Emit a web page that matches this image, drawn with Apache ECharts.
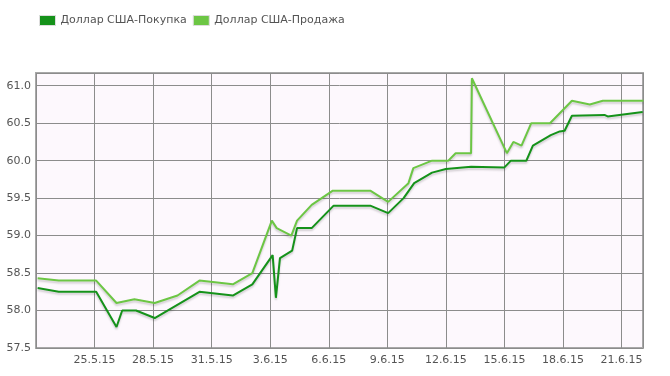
<!DOCTYPE html>
<html>
<head>
<meta charset="utf-8">
<script src="https://cdn.jsdelivr.net/npm/echarts@6/dist/echarts.min.js"></script>
<style>html,body{margin:0;padding:0;background:#fff}#c{width:670px;height:376px}</style>
</head>
<body>
<div id="c"></div>
<script>
const seriesNames = ['Доллар США-Покупка', 'Доллар США-Продажа'];
const buyDates = ['2015-05-22 02:00','2015-05-23 04:00','2015-05-25 02:00','2015-05-26 03:00','2015-05-26 10:00','2015-05-27 03:00','2015-05-28 02:00','2015-05-30 09:00','2015-06-01 02:00','2015-06-02 02:00','2015-06-03 03:00','2015-06-03 07:00','2015-06-03 12:00','2015-06-04 03:00','2015-06-04 09:00','2015-06-05 03:00','2015-06-06 06:00','2015-06-08 03:00','2015-06-09 01:00','2015-06-09 20:00','2015-06-10 09:00','2015-06-11 07:00','2015-06-12 00:00','2015-06-13 07:00','2015-06-15 00:00','2015-06-15 08:00','2015-06-16 03:00','2015-06-16 11:00','2015-06-17 09:00','2015-06-17 20:00','2015-06-18 02:00','2015-06-18 11:00','2015-06-20 03:00','2015-06-20 07:00','2015-06-22 02:00'];
const buyValues = [58.30,58.25,58.25,57.78,58.00,58.00,57.90,58.25,58.20,58.35,58.74,58.17,58.70,58.80,59.10,59.10,59.40,59.40,59.30,59.50,59.70,59.84,59.89,59.92,59.91,60.00,60.00,60.20,60.34,60.39,60.40,60.60,60.61,60.59,60.65];
const sellDates = ['2015-05-22 02:00','2015-05-23 04:00','2015-05-25 02:00','2015-05-26 03:00','2015-05-27 01:00','2015-05-28 02:00','2015-05-29 06:00','2015-05-30 09:00','2015-06-01 02:00','2015-06-02 02:00','2015-06-03 02:00','2015-06-03 08:00','2015-06-04 02:00','2015-06-04 09:00','2015-06-05 03:00','2015-06-06 05:00','2015-06-08 03:00','2015-06-09 01:00','2015-06-10 02:00','2015-06-10 08:00','2015-06-11 07:00','2015-06-12 03:00','2015-06-12 12:00','2015-06-13 07:00','2015-06-13 08:00','2015-06-15 03:00','2015-06-15 11:00','2015-06-15 21:00','2015-06-16 09:00','2015-06-17 08:00','2015-06-18 11:00','2015-06-19 09:00','2015-06-20 01:00','2015-06-22 03:00'];
const sellValues = [58.43,58.40,58.40,58.10,58.15,58.10,58.20,58.40,58.35,58.50,59.20,59.10,59.00,59.20,59.41,59.60,59.60,59.45,59.70,59.90,60.00,60.00,60.10,60.10,61.10,60.10,60.25,60.20,60.50,60.50,60.80,60.75,60.80,60.80];

const ORIGIN = Date.UTC(2015, 4, 22);
const DAY = 86400000;
function toDay(s) {
  const [d, t] = s.split(' ');
  const [Y, M, D] = d.split('-').map(Number);
  const [h, m] = t.split(':').map(Number);
  return (Date.UTC(Y, M - 1, D, h, m) - ORIGIN) / DAY;
}
function fmtDay(v) {
  const dt = new Date(ORIGIN + Math.round(v * DAY));
  return dt.getUTCDate() + '.' + (dt.getUTCMonth() + 1) + '.' + String(dt.getUTCFullYear()).slice(2);
}
const buyData = buyDates.map((d, i) => [toDay(d), buyValues[i]]);
const sellData = sellDates.map((d, i) => [toDay(d), sellValues[i]]);

const labelStyle = { color: '#545454', fontFamily: 'DejaVu Sans', fontSize: 11 };
const shadow = { shadowColor: 'rgba(0,0,0,0.18)', shadowBlur: 2, shadowOffsetY: 2 };

const chart = echarts.init(document.getElementById('c'), null, { renderer: 'canvas' });
chart.setOption({
  animation: false,
  backgroundColor: '#ffffff',
  color: ['#15921a', '#6cc644'],
  legend: {
    left: 34, top: 10,
    itemWidth: 16, itemHeight: 10, itemGap: 6,
    icon: 'rect',
    itemStyle: { borderColor: '#dddddd', borderWidth: 1 },
    textStyle: labelStyle,
    data: seriesNames
  },
  grid: {
    left: 36, right: 27, top: 73, bottom: 28,
    show: true, backgroundColor: '#fdf8fd', borderColor: '#a8a8a8', borderWidth: 2
  },
  xAxis: {
    type: 'value', min: 0, max: 31.1, interval: 3,
    axisLine: { show: false }, axisTick: { show: false },
    splitLine: { show: true, lineStyle: { color: '#8c8c8c', width: 1 } },
    axisLabel: Object.assign({ margin: 7, showMinLabel: false, showMaxLabel: false, formatter: fmtDay }, labelStyle)
  },
  yAxis: {
    type: 'value', min: 57.5, max: 61.17, interval: 0.5,
    axisLine: { show: false }, axisTick: { show: false },
    splitLine: { show: true, lineStyle: { color: '#8c8c8c', width: 1 } },
    axisLabel: Object.assign({ margin: 5, showMaxLabel: false, formatter: v => v.toFixed(1) }, labelStyle)
  },
  series: [
    { name: seriesNames[0], type: 'line', data: buyData, symbol: 'none',
      lineStyle: Object.assign({ width: 2, color: '#15921a' }, shadow) },
    { name: seriesNames[1], type: 'line', data: sellData, symbol: 'none',
      lineStyle: Object.assign({ width: 2, color: '#6cc644' }, shadow) }
  ]
});
</script>
</body>
</html>
